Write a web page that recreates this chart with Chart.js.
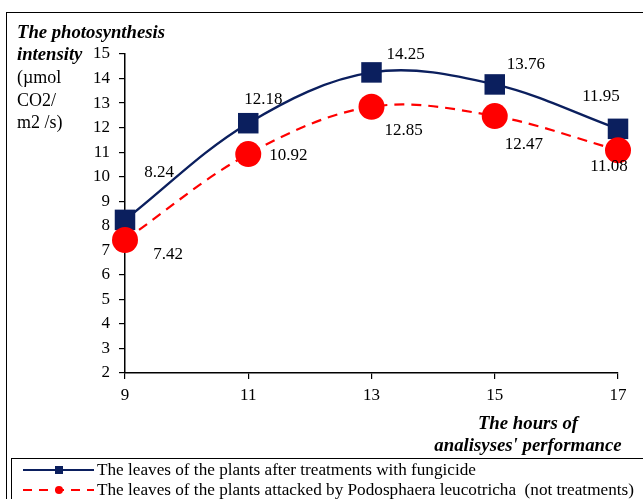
<!DOCTYPE html>
<html>
<head>
<meta charset="utf-8">
<script src="https://cdn.jsdelivr.net/npm/chart.js@4/dist/chart.umd.min.js"></script>
<style>
  html, body { margin: 0; padding: 0; background: #fff; }
  #wrap { position: relative; width: 643px; height: 499px; overflow: hidden; background: #fff; }
  #c { position: absolute; left: 0; top: 0; }
  .frame { position: absolute; left: 6px; top: 12px; width: 700px; height: 600px; border-left: 1.5px solid #000; border-top: 1.5px solid #000; }
  .legbox { position: absolute; left: 11px; top: 458px; width: 700px; height: 100px; border-left: 1px solid #000; border-top: 1px solid #000; }
  .t { position: absolute; font-family: "Liberation Serif", "Times New Roman", serif; color: #000; white-space: nowrap; line-height: 1; }
  .bi { font-weight: bold; font-style: italic; }
  .yt { font-size: 18px; left: 17px; }
  .ybi { font-size: 18.7px; left: 17px; }
  .xt { font-size: 18.8px; left: 378px; width: 300px; text-align: center; }
  .lg { font-size: 17.2px; left: 97px; }
  svg { position: absolute; left: 0; top: 0; }
</style>
</head>
<body>
<div id="wrap">
  <div class="frame"></div>
  <canvas id="c" width="643" height="499"></canvas>
  <div class="t bi ybi" style="top:23px;">The photosynthesis</div>
  <div class="t bi ybi" style="top:45px;">intensity</div>
  <div class="t yt" style="top:68px;">(µmol</div>
  <div class="t yt" style="top:91px;">CO2/</div>
  <div class="t yt" style="top:113px;">m2 /s)</div>
  <div class="t bi xt" style="top:414px;">The hours of</div>
  <div class="t bi xt" style="top:436px;">analisyses' performance</div>
  <div class="legbox"></div>
  <svg width="643" height="499">
    <line x1="23" y1="470" x2="94" y2="470" stroke="#0B1F5E" stroke-width="2"/>
    <rect x="55" y="466" width="8" height="8" fill="#0B1F5E"/>
    <line x1="23" y1="490" x2="94" y2="490" stroke="#FF0000" stroke-width="2" stroke-dasharray="9,7"/>
    <circle cx="59" cy="490" r="4" fill="#FF0000"/>
  </svg>
  <div class="t lg" style="top:461px;">The leaves of the plants after treatments with fungicide</div>
  <div class="t lg" style="top:481px;">The leaves of the plants attacked by Podosphaera leucotricha&nbsp; (not treatments)</div>
</div>
<script>
// ---- data ----
const hours = [9, 11, 13, 15, 17];
const fungicide = [8.24, 12.18, 14.25, 13.76, 11.95];
const attacked = [7.42, 10.92, 12.85, 12.47, 11.08];
const yTicks = { min: 2, max: 15, step: 1 };
const xTicks = { min: 9, max: 17, step: 2 };

// label placement offsets (pixels, presentation only)
const blueLabelOffsets = [[34, -47], [15, -24], [34, -18], [31, -20], [-17, -32]];
const redLabelOffsets  = [[43, 15], [40, 1], [32, 24], [29, 28], [-9, 16]];

const BLUE = '#0B1F5E';
const RED = '#FF0000';
const SERIF = '"Liberation Serif", "Times New Roman", serif';

const labelPlugin = {
  id: 'valueLabels',
  afterDatasetsDraw(chart) {
    const ctx = chart.ctx;
    ctx.save();
    ctx.font = '17px ' + SERIF;
    ctx.fillStyle = '#000';
    ctx.textAlign = 'center';
    ctx.textBaseline = 'middle';
    chart.data.datasets.forEach((ds, i) => {
      const meta = chart.getDatasetMeta(i);
      const offs = ds._offsets;
      meta.data.forEach((pt, j) => {
        const v = ds.data[j].y;
        ctx.fillText(v.toFixed(2), pt.x + offs[j][0], pt.y + offs[j][1]);
      });
    });
    ctx.restore();
  }
};

const chart = new Chart(document.getElementById('c'), {
  type: 'line',
  data: {
    datasets: [
      {
        label: 'The leaves of the plants after treatments with fungicide',
        data: hours.map((h, i) => ({ x: h, y: fungicide[i] })),
        borderColor: BLUE,
        backgroundColor: BLUE,
        borderWidth: 2.4,
        pointStyle: 'rect',
        pointRadius: 14.5,
        pointBackgroundColor: BLUE,
        pointBorderColor: BLUE,
        pointBorderWidth: 0,
        tension: 0.35,
        clip: false,
        order: 1,
        _offsets: blueLabelOffsets
      },
      {
        label: 'The leaves of the plants attacked by Podosphaera leucotricha  (not treatments)',
        data: hours.map((h, i) => ({ x: h, y: attacked[i] })),
        borderColor: RED,
        backgroundColor: RED,
        borderWidth: 2.2,
        borderDash: [10, 7],
        pointStyle: 'circle',
        pointRadius: 13,
        pointBackgroundColor: RED,
        pointBorderColor: RED,
        pointBorderWidth: 0,
        tension: 0.35,
        clip: false,
        order: 0,
        _offsets: redLabelOffsets
      }
    ]
  },
  options: {
    responsive: false,
    animation: false,
    events: [],
    layout: { padding: { top: 54, left: 0, right: 25, bottom: 96 } },
    plugins: {
      legend: { display: false },
      tooltip: { enabled: false },
      title: { display: false }
    },
    scales: {
      x: {
        type: 'linear',
        min: xTicks.min,
        max: xTicks.max,
        afterFit(s) { s.height = 30; },
        ticks: {
          stepSize: xTicks.step,
          color: '#000',
          font: { family: SERIF, size: 17 },
          padding: 6
        },
        grid: { display: true, drawOnChartArea: false, drawTicks: true, tickLength: 6, color: '#000', lineWidth: 1.2 },
        border: { display: true, color: '#000', width: 1.5 }
      },
      y: {
        min: yTicks.min,
        max: yTicks.max,
        afterFit(s) { s.width = 125; },
        ticks: {
          stepSize: yTicks.step,
          color: '#000',
          font: { family: SERIF, size: 17 },
          padding: 9
        },
        grid: { display: true, drawOnChartArea: false, drawTicks: true, tickLength: 6, color: '#000', lineWidth: 1.2 },
        border: { display: true, color: '#000', width: 1.5 }
      }
    }
  },
  plugins: [labelPlugin]
});
</script>
</body>
</html>
